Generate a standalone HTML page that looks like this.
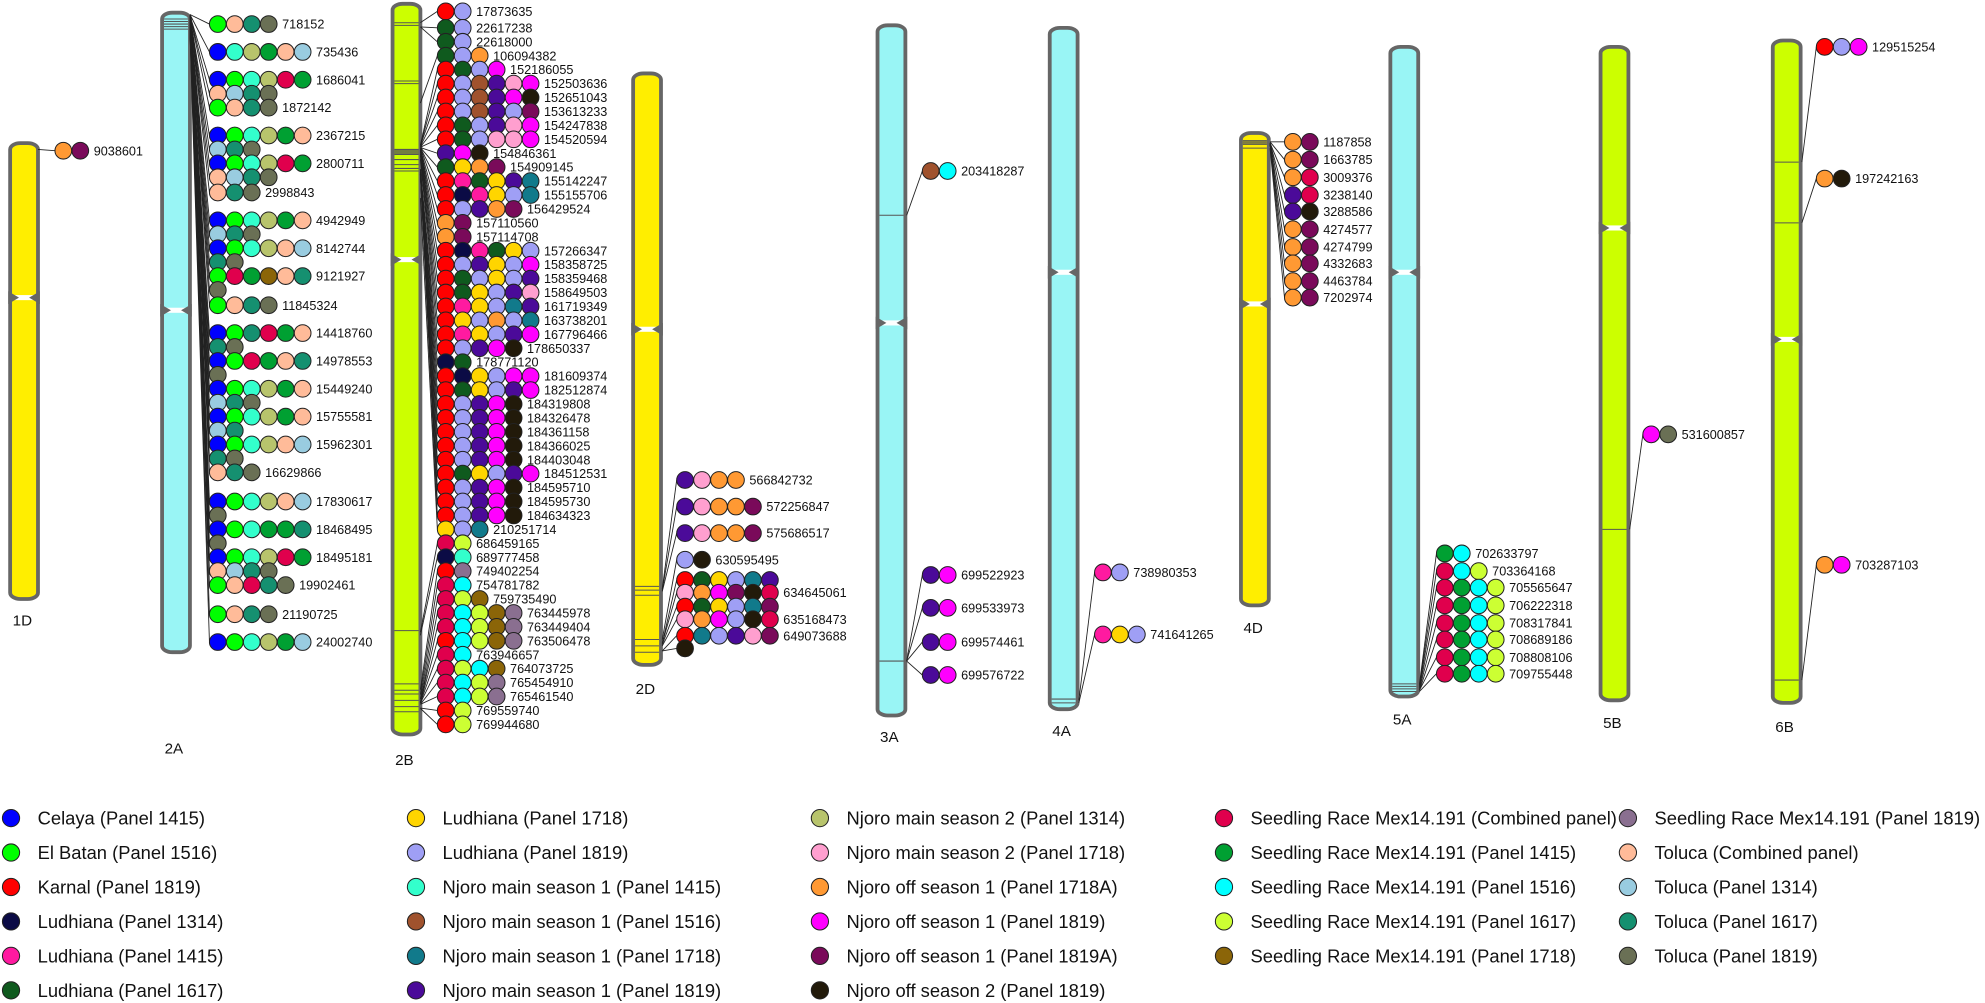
<!DOCTYPE html>
<html><head><meta charset="utf-8"><style>
html,body{margin:0;padding:0;background:#fff;}
svg{display:block;}
text{font-family:"Liberation Sans",Arial,sans-serif;fill:#111;}
</style></head><body>
<svg id="s" xmlns="http://www.w3.org/2000/svg" width="1985" height="1003" viewBox="0 0 1567.6 792" preserveAspectRatio="none">
<g id="g"></g>
</svg>
<script>
var C={B:"#0000ff",L:"#00ff00",R:"#ff0000",N:"#0b0b45",P:"#ff1aa0",G:"#0f5a1e",Y:"#ffd500",V:"#9f9ff5",A:"#33ffcc",W:"#a0522d",T:"#117a8b",I:"#4b0a99",O:"#b8c46c",K:"#ff9fcf",o:"#ff9933",M:"#ff00ff",X:"#7a0a5a",Z:"#221a0a",C:"#e0004d",E:"#00a032",c:"#00ffff",Q:"#ccff33",U:"#8b6508",S:"#8a6f90",H:"#ffbb99",J:"#99cce0",F:"#159070",D:"#6a7055"};
var out=[];
var R=6.6,ST=13.4;
function chrom(x,y1,y2,fill,cen,bands,lab,lx,ly){
 var w=22;
 out.push('<rect x="'+x+'" y="'+y1+'" width="'+w+'" height="'+(y2-y1)+'" rx="8" ry="5" fill="'+fill+'" stroke="#666" stroke-width="3"/>');
 bands.forEach(function(b){out.push('<line x1="'+(x+1.5)+'" x2="'+(x+w-1.5)+'" y1="'+b+'" y2="'+b+'" stroke="#555" stroke-width="0.8"/>');});
 if(cen){out.push('<rect x="'+(x+2)+'" y="'+(cen-2)+'" width="'+(w-4)+'" height="4" fill="#fff"/>');
 out.push('<polygon points="'+(x-1.5)+','+(cen-5)+' '+(x+7)+','+cen+' '+(x-1.5)+','+(cen+5)+'" fill="#666"/>');
 out.push('<polygon points="'+(x+w+1.5)+','+(cen-5)+' '+(x+w-7)+','+cen+' '+(x+w+1.5)+','+(cen+5)+'" fill="#666"/>');}
 out.push('<text x="'+lx+'" y="'+ly+'" font-size="12">'+lab+'</text>');
}
function rows(cx,sx,list){
 var lines=[],circ=[];
 list.forEach(function(r){
  var y=r[0],cols=r[1],lab=r[2],my=r[3];
  lines.push('<line x1="'+cx+'" y1="'+my+'" x2="'+(sx-R)+'" y2="'+y+'" stroke="#222" stroke-width="0.7"/>');
  for(var i=0;i<cols.length;i++){
   circ.push('<circle cx="'+(sx+i*ST)+'" cy="'+y+'" r="'+R+'" fill="'+C[cols[i]]+'" stroke="#222" stroke-width="0.8"/>');
  }
  if(lab) circ.push('<text x="'+(sx+(cols.length-1)*ST+R+4)+'" y="'+(y+3.6)+'" font-size="10">'+lab+'</text>');
 });
 out.push(lines.join(''));out.push(circ.join(''));
}
chrom(8,113,473,"#ffee00",235,[],"1D",10,494);
rows(30,50,[[119,"oX","9038601",118]]);
chrom(128,10,515,"#99f5f5",245,[15,17,19,21,23],"2A",130,595);
var a2=[[19,"LHFD","718152"],[41,"BAOEHJ","735436"],[63,"BLAOCE","1686041"],[74,"HJFD",""],[85,"LHFD","1872142"],[107,"BLAOEH","2367215"],[118,"JFD",""],[129,"BLAOCE","2800711"],[140,"HJFD",""],[152,"HFD","2998843"],[174,"BLAOEH","4942949"],[185,"JFD",""],[196,"BLAOHJ","8142744"],[207,"FD",""],[218,"LCEUHF","9121927"],[229,"D",""],[241,"LHFD","11845324"],[263,"BLFCEH","14418760"],[274,"FD",""],[285,"BLCEHF","14978553"],[296,"D",""],[307,"BLAOEH","15449240"],[318,"JFD",""],[329,"BLAOEH","15755581"],[340,"JF",""],[351,"BLAOHJ","15962301"],[362,"FD",""],[373,"HFD","16629866"],[396,"BLAOHJ","17830617"],[407,"D",""],[418,"BLAEEF","18468495"],[429,"D",""],[440,"BLAOCE","18495181"],[451,"HJFD",""],[462,"LHCFD","19902461"],[485,"LHFD","21190725"],[507,"BLAOEJ","24002740"]];
var lp=0;a2.forEach(function(r){if(r[2])lp=parseInt(r[2])/1e6;r.push(11+lp*0.6);});
rows(150,172,a2);
chrom(310,3,580,"#ccff00",205,[18,20,64,66,118,119,120,121,122,126,130,133,135,498,540,545,548,553,558,562],"2B",312,604);
var b2=[[9,"RV","17873635"],[22,"GV","22617238"],[33,"GV","22618000"],[44,"GVo","106094382"],[55,"RGVM","152186055"],[66,"RVWIKM","152503636"],[77,"RVWIMZ","152651043"],[88,"RVWIVX","153613233"],[99,"RGVIKM","154247838"],[110,"RGVKKM","154520594"],[121,"IMZ","154846361"],[132,"GYoX","154909145"],[143,"RPGYIT","155142247"],[154,"RNPYVT","155155706"],[165,"RVIoX","156429524"],[176,"oX","157110560"],[187,"oX","157114708"],[198,"RNPGYV","157266347"],[209,"RVIYVM","158358725"],[220,"RGVYVI","158359468"],[231,"RGYVIK","158649503"],[242,"RPYVTI","161719349"],[253,"RYVoVT","163738201"],[264,"RPYVIM","167796466"],[275,"RVIMZ","178650337"],[286,"NG","178771120"],[297,"RNYVMM","181609374"],[308,"RGYVIM","182512874"],[319,"RVIMZ","184319808"],[330,"RVIMZ","184326478"],[341,"RVIMZ","184361158"],[352,"RVIMZ","184366025"],[363,"RVIMZ","184403048"],[374,"RGYVIM","184512531"],[385,"RVIMZ","184595710"],[396,"RVIMZ","184595730"],[407,"RVIMZ","184634323"],[418,"YVT","210251714"],[429,"CQ","686459165"],[440,"NA","689777458"],[451,"RS","749402254"],[462,"Cc","754781782"],[473,"CQU","759735490"],[484,"CcQUS","763445978"],[495,"CcQUS","763449404"],[506,"RcQUS","763506478"],[517,"Cc","763946657"],[528,"CQcU","764073725"],[539,"CcQS","765454910"],[550,"CcQS","765461540"],[561,"RQ","769559740"],[572,"RQ","769944680"]];
b2.forEach(function(r){r.push(5+parseInt(r[2])/1e6*0.72);});
rows(332,352,b2);
chrom(500,58,525,"#ffee00",260,[463,466,470,505,510,515],"2D",502,548);
rows(523,541,[[379,"IKoo","566842732",465],[400,"IKooX","572256847",466],[421,"IKooX","575686517",467],[442,"VZ","630595495",505],[458,"RGYVTI","",508],[468,"KoMXZC","634645061",508],[479,"RGYVTX","",509],[489,"KoMVZC","635168473",510],[502,"RTVIKX","649073688",514],[512,"Z","",514]]);
chrom(693,20,565,"#99f5f5",255,[170,522],"3A",695,586);
rows(716,735,[[135,"Wc","203418287",170],[454,"IM","699522923",522],[480,"IM","699533973",522],[507,"IM","699574461",522],[533,"IM","699576722",522]]);
chrom(829,22,560,"#99f5f5",215,[552,555],"4A",831,581);
rows(852,871,[[452,"PV","738980353",553],[501,"PYV","741641265",555]]);
chrom(980,105,478,"#ffee00",240,[111,112,113,114,117],"4D",982,500);
rows(1003,1021,[[112,"oX","1187858",112],[126,"oX","1663785",112],[140,"oC","3009376",113],[154,"IC","3238140",113],[167,"IZ","3288586",113],[181,"oX","4274577",114],[195,"oX","4274799",114],[208,"oX","4332683",114],[222,"oX","4463784",114],[235,"oX","7202974",117]]);
chrom(1098,37,550,"#99f5f5",215,[540,542,544,546],"5A",1100,572);
rows(1121,1141,[[437,"Ec","702633797",540],[451,"CcQ","703364168",541],[464,"CEcQ","705565647",542],[478,"CEcQ","706222318",543],[492,"CEcQ","708317841",544],[505,"CEcQ","708689186",545],[519,"CEcQ","708808106",545],[532,"CEcQ","709755448",546]]);
chrom(1264,37,553,"#ccff00",180,[418],"5B",1266,575);
rows(1287,1304,[[343,"MD","531600857",418]]);
chrom(1400,32,555,"#ccff00",268,[128,176,537],"6B",1402,578);
rows(1423,1441,[[37,"RVM","129515254",128],[141,"oZ","197242163",176],[446,"oM","703287103",537]]);
var leg=[[8.7,[["B","Celaya (Panel 1415)"],["L","El Batan (Panel 1516)"],["R","Karnal (Panel 1819)"],["N","Ludhiana (Panel 1314)"],["P","Ludhiana (Panel 1415)"],["G","Ludhiana (Panel 1617)"]]],
[328.5,[["Y","Ludhiana (Panel 1718)"],["V","Ludhiana (Panel 1819)"],["A","Njoro main season 1 (Panel 1415)"],["W","Njoro main season 1 (Panel 1516)"],["T","Njoro main season 1 (Panel 1718)"],["I","Njoro main season 1 (Panel 1819)"]]],
[647.5,[["O","Njoro main season 2 (Panel 1314)"],["K","Njoro main season 2 (Panel 1718)"],["o","Njoro off season 1 (Panel 1718A)"],["M","Njoro off season 1 (Panel 1819)"],["X","Njoro off season 1 (Panel 1819A)"],["Z","Njoro off season 2 (Panel 1819)"]]],
[966.6,[["C","Seedling Race Mex14.191 (Combined panel)"],["E","Seedling Race Mex14.191 (Panel 1415)"],["c","Seedling Race Mex14.191 (Panel 1516)"],["Q","Seedling Race Mex14.191 (Panel 1617)"],["U","Seedling Race Mex14.191 (Panel 1718)"]]],
[1285.6,[["S","Seedling Race Mex14.191 (Panel 1819)"],["H","Toluca (Combined panel)"],["J","Toluca (Panel 1314)"],["F","Toluca (Panel 1617)"],["D","Toluca (Panel 1819)"]]]];
leg.forEach(function(col){col[1].forEach(function(it,i){var y=646+i*27.2;
 out.push('<circle cx="'+col[0]+'" cy="'+y+'" r="6.8" fill="'+C[it[0]]+'" stroke="#222" stroke-width="0.8"/>');
 out.push('<text x="'+(col[0]+21)+'" y="'+(y+5.2)+'" font-size="14.5">'+it[1]+'</text>');});});
document.getElementById('g').innerHTML=out.join('');
</script>
</body></html>
